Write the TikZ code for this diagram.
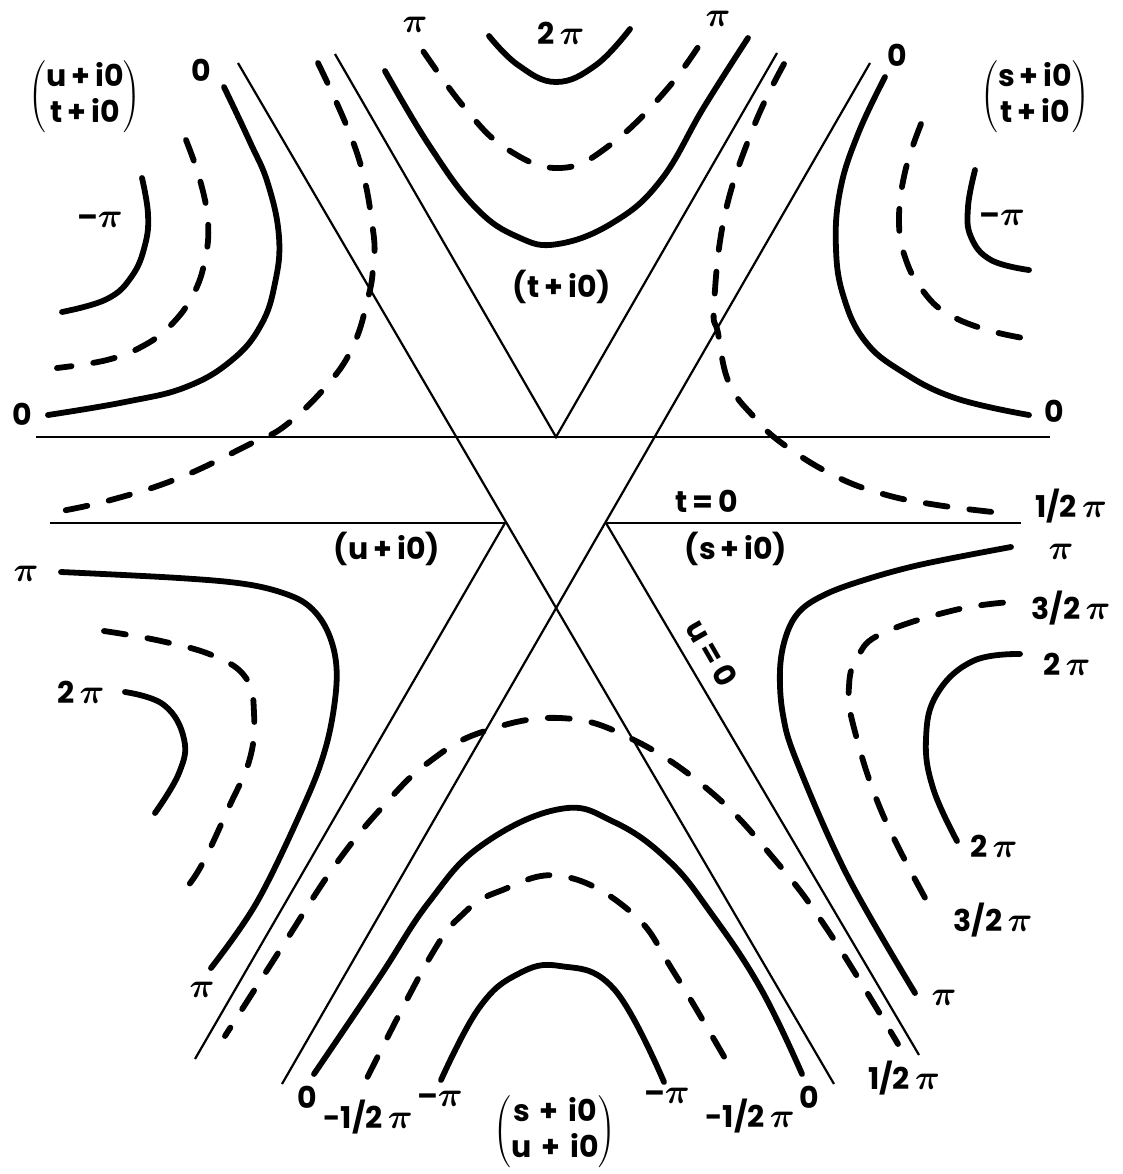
\documentclass[tikz,border=0pt]{standalone}
\usepackage{fontspec}
\setmainfont{Poppins}
\usetikzlibrary{positioning}

\newcommand{\ppi}{{\fontsize{19}{19}\selectfont$\pi$}}

\begin{document}
\begin{tikzpicture}[
        x=0.5pt, y=-0.5pt,
        bound/.style={line width=1.1pt},
        phase/.style={line width=2.9pt, line cap=round},
        halfphase/.style={phase, dash pattern=on 11pt off 11pt},
        lab/.style={font=\fontsize{15}{18}\selectfont\bfseries\boldmath, inner sep=0pt},
        pair/.style={lab},
    ]
        \useasboundingbox (0,0) rectangle (1123,1174);

        % corners of the two triangles and the free ends of the lines
        \coordinate (M) at (556,437);
        \coordinate (P) at (505,523);
        \coordinate (Q) at (606,523);
        \coordinate (tl) at (36,437);
        \coordinate (tr) at (1050,437);
        \coordinate (sl) at (50,523);
        \coordinate (sr) at (1021,523);
        \coordinate (ua) at (238,63);
        \coordinate (ub) at (834,1084);
        \coordinate (sa) at (870,63);
        \coordinate (sb) at (282,1084);
        \coordinate (va) at (335,54);
        \coordinate (vb) at (777,53);
        \coordinate (uz) at (919,1055);
        \coordinate (sz) at (195,1059);

        \draw[bound] (tl) -- (tr);
        \draw[bound] (sl) -- (P);
        \draw[bound] (Q) -- (sr);
        \draw[bound] (ua) -- (ub);
        \draw[bound] (sa) -- (sb);
        \draw[bound] (va) -- (M) -- (vb);
        \draw[bound] (Q) -- (uz);
        \draw[bound] (P) -- (sz);

        % upper left
        \draw[phase] plot[smooth, tension=0.7] coordinates {(142,178) (148,214) (145,245) (132,276) (107,299) (62,312)};
        \draw[halfphase] plot[smooth, tension=0.7] coordinates {(186,140) (200,180) (208,222) (205,260) (193,295) (171,325) (143,346) (107,360) (57,368)};
        \draw[phase] plot[smooth, tension=0.7] coordinates {(224,87) (250,142) (268,184) (279,237) (275,283) (261,325) (232,360) (186,387) (125,402) (48,415)};
        \draw[halfphase] plot[smooth, tension=0.7] coordinates {(318,63) (357,153) (373,230) (373,268) (368,298) (354,344) (329,383) (286,425) (250,444) (179,478) (107,501) (50,513)};

        % upper right
        \draw[halfphase] plot[smooth, tension=0.7] coordinates {(784,64) (754,126) (725,214) (714,306) (718,333) (729,383) (754,417) (783,444) (833,475) (883,494) (937,505) (1002,513)};
        \draw[phase] plot[smooth, tension=0.7] coordinates {(885,77) (858,134) (840,191) (836,249) (844,298) (865,341) (901,371) (955,398) (1029,415)};
        \draw[halfphase] plot[smooth, tension=0.7] coordinates {(921,124) (905,172) (899,222) (906,260) (923,291) (948,314) (991,331) (1041,341)};
        \draw[phase] plot[smooth, tension=0.7] coordinates {(975,170) (968,207) (971,237) (991,260) (1029,270)};

        % top
        \draw[phase] plot[smooth, tension=0.7] coordinates {(489,36) (518,65) (556,82) (596,65) (630,29)};
        \draw[halfphase, dash phase=18pt] plot[smooth, tension=0.7] coordinates {(419,45) (464,107) (507,149) (560,168) (610,145) (668,88) (709,30)};
        \draw[phase] plot[smooth, tension=0.7] coordinates {(385,71) (429,145) (475,207) (518,237) (558,244) (614,222) (661,180) (704,107) (748,38)};

        % lower left
        \draw[phase] plot[smooth, tension=0.6] coordinates {(61,572) (179,578) (245,584) (286,594) (310,607) (327,630) (336,662) (335,700) (325,750) (304,805) (257,902) (211,968)};
        \draw[halfphase] plot[smooth, tension=0.7] coordinates {(104,631) (161,641) (214,656) (246,678) (254,713) (250,758) (229,807) (200,868) (179,896)};
        \draw[phase] plot[smooth, tension=0.7] coordinates {(125,692) (164,705) (184,739) (179,773) (155,813)};

        % bottom
        \draw[halfphase, dash phase=6pt] plot[smooth, tension=0.7] coordinates {(225,1036) (282,947) (336,864) (386,803) (429,762) (482,732) (560,718) (632,739) (711,792) (775,860) (829,932) (898,1044)};
        \draw[phase] plot[smooth, tension=0.7] coordinates {(314,1074) (379,978) (429,902) (482,845) (560,809) (614,822) (668,860) (711,913) (761,989) (802,1074)};
        \draw[halfphase, dash phase=18pt] plot[smooth, tension=0.7] coordinates {(364,1084) (429,959) (464,913) (500,891) (562,876) (632,913) (675,974) (734,1074)};
        \draw[phase] plot[smooth, tension=0.7] coordinates {(441,1080) (479,1008) (518,974) (560,966) (614,989) (664,1082)};

        % lower right
        \draw[phase] plot[smooth, tension=0.6] coordinates {(1011,547) (919,565) (858,582) (822,596) (799,612) (786,636) (780,670) (783,715) (797,762) (847,875) (915,993)};
        \draw[halfphase, dash phase=18pt] plot[smooth, tension=0.7] coordinates {(1011,602) (955,610) (883,633) (858,656) (849,686) (854,728) (883,815) (934,914)};
        \draw[phase] plot[smooth, tension=0.7] coordinates {(1020,654) (973,661) (937,694) (926,739) (933,788) (957,841)};

        % channel labels
        \node[pair] (ut) at (85,97) {$\left(\begin{tabular}{@{}c@{}}u\,+\,i0\\t\,+\,i0\end{tabular}\right)$};
        \node[pair] (st) at (1035,97) {$\left(\begin{tabular}{@{}c@{}}s\,+\,i0\\t\,+\,i0\end{tabular}\right)$};
        \node[pair] (su) at (555,1132) {$\left(\begin{tabular}{@{}c@{}}s\,\,+\,\,i0\\u\,\,+\,\,i0\end{tabular}\right)$};
        \node[pair] (tch) at (562,287) {(t\,+\,i0)};
        \node[pair] (uch) at (387,549) {(u\,+\,i0)};
        \node[pair] (sch) at (736,549) {(s\,+\,i0)};
        \node[pair] (tzero) at (707,501) {t\,=\,0};
        \node[pair, rotate=-60] (uzero) at (712,653) {u\,=\,0};

        % phase values
        \node[lab] (v1) at (201,70) {0};
        \node[lab] (v2) at (22,414) {0};
        \node[lab] (v3) at (100,220) {–\ppi};
        \node[lab] (v4) at (897,55) {0};
        \node[lab] (v5) at (1054,411) {0};
        \node[lab] (v6) at (1002,218) {–\ppi};
        \node[lab] (v7) at (415,25) {\ppi};
        \node[lab] (v8) at (561,33) {2\,\ppi};
        \node[lab] (v9) at (718,19) {\ppi};
        \node[lab] (v10) at (1071,506) {1/2\,\ppi};
        \node[lab] (v11) at (1061,552) {\ppi};
        \node[lab] (v12) at (1071,608) {3/2\,\ppi};
        \node[lab] (v13) at (1067,664) {2\,\ppi};
        \node[lab] (v14) at (994,846) {2\,\ppi};
        \node[lab] (v15) at (993,920) {3/2\,\ppi};
        \node[lab] (v16) at (944,998) {\ppi};
        \node[lab] (v17) at (904,1078) {1/2\,\ppi};
        \node[lab] (v18) at (809,1097) {0};
        \node[lab] (v19) at (750,1116) {-1/2\,\ppi};
        \node[lab] (v20) at (667,1096) {–\ppi};
        \node[lab] (v21) at (307,1097) {0};
        \node[lab] (v22) at (368,1117) {-1/2\,\ppi};
        \node[lab] (v23) at (440,1099) {–\ppi};
        \node[lab] (v24) at (202,990) {\ppi};
        \node[lab] (v25) at (81,692) {2\,\ppi};
        \node[lab] (v26) at (26,574) {\ppi};
    \end{tikzpicture}
\end{document}
